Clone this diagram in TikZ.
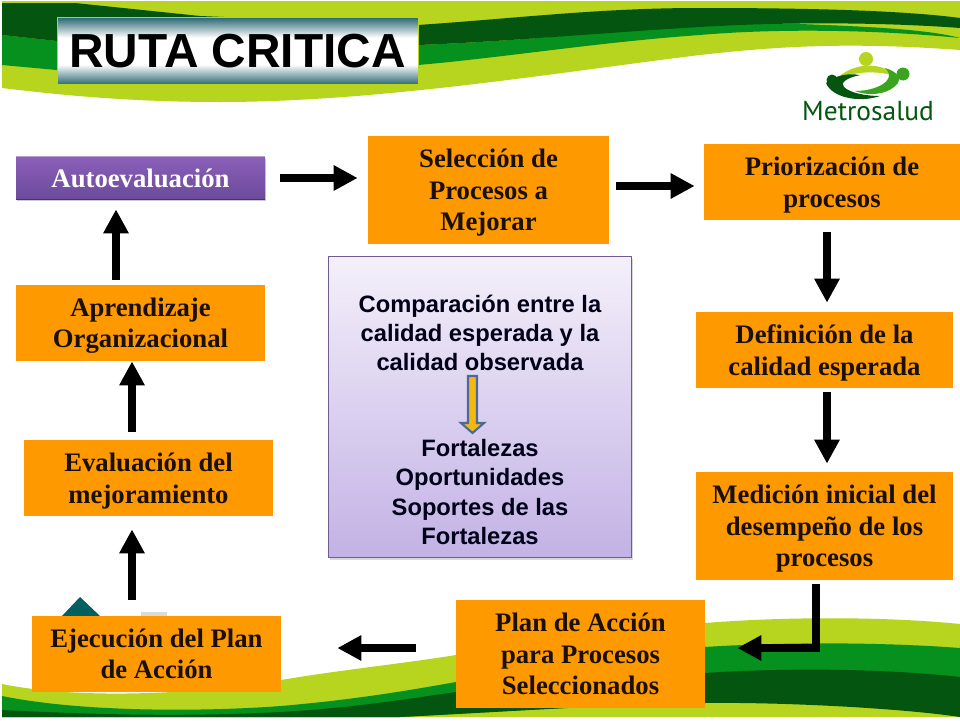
\documentclass[tikz,border=0pt]{standalone}
\usepackage{fontspec}
\setmainfont{Liberation Serif}
\setsansfont{Liberation Sans}
\usetikzlibrary{arrows.meta,shadows,positioning}
\definecolor{naranja}{HTML}{FF9900}
\definecolor{verdeclaro}{HTML}{B7D41E}
\definecolor{verdemedio}{HTML}{06901E}
\definecolor{verdeoscuro}{HTML}{03550F}
\definecolor{tinta}{HTML}{1A1005}
\definecolor{petroleo}{HTML}{2A6872}
\definecolor{lilaalto}{HTML}{F4F0FA}
\definecolor{lilabajo}{HTML}{C3B2E5}
\definecolor{moradoalto}{HTML}{8A5FB8}
\definecolor{moradobajo}{HTML}{6C4A9C}
\definecolor{azulborde}{HTML}{4A6A9A}
\definecolor{oro}{HTML}{F5B80F}
\pgfdeclareverticalshading{brillo}{100bp}{color(0bp)=(petroleo); color(25bp)=(petroleo); color(40bp)=(white);
    color(60bp)=(white); color(75bp)=(petroleo); color(100bp)=(petroleo)}
\def\px{0.02cm}
\newcommand{\baja}{\rule{0pt}{13.7pt}}
\tikzset{
    caja/.style 2 args={fill=naranja, text=tinta, font=\rmfamily\bfseries\fontsize{15.2}{18}\selectfont,
        align=center, inner sep=0pt, minimum width=#1*\px, minimum height=#2*\px},
    flecha/.style={line width=4.2pt, black, -{Triangle[length=0.48cm,width=0.48cm]}},
    textolila/.style={font=\sffamily\bfseries\fontsize{13.5}{16.7}\selectfont, text=black!90!blue, align=center}
}
\begin{document}
\begin{tikzpicture}[x=\px, y=-\px]
    \useasboundingbox (0,0) rectangle (960,720);
    \fill[white] (0,0) rectangle (960,720);
    % franja superior
    \fill[verdeclaro] (2,1) -- (960,1) -- (960,50) .. controls (850,42) and (780,46) .. (700,55)
        .. controls (560,72) and (380,102) .. (220,102) .. controls (130,102) and (60,95) .. (2,88) -- cycle;
    \fill[verdemedio] (2,35) -- (57,41) -- (418,45) .. controls (560,40) and (700,20) .. (800,24)
        .. controls (880,27) and (930,30) .. (960,38) -- (960,50) -- (960,38)
        .. controls (880,30) and (780,28) .. (700,35) .. controls (600,42) and (500,58) .. (418,65)
        -- (57,70) -- (2,65) -- cycle;
    \fill[verdeoscuro] (2,3) -- (75,3) -- (200,16) -- (418,25) .. controls (520,18) and (600,8) .. (700,8)
        .. controls (800,8) and (900,10) .. (960,18) -- (960,28) .. controls (880,22) and (780,22) .. (700,27)
        .. controls (600,33) and (500,42) .. (418,45) -- (57,41) -- (2,35) -- cycle;
    % franja inferior
    \fill[verdeclaro] (2,684) .. controls (80,700) and (200,694) .. (281,680) .. controls (340,670) and (400,664) .. (456,655)
        .. controls (560,636) and (640,626) .. (705,623) .. controls (780,617) and (880,616) .. (960,624)
        -- (960,717) -- (2,717) -- cycle;
    \fill[verdemedio] (2,696) .. controls (80,712) and (200,712) .. (281,706) .. controls (350,700) and (400,692) .. (456,682)
        .. controls (560,662) and (640,650) .. (705,647) .. controls (780,642) and (880,642) .. (960,648)
        -- (960,677) -- (705,700) -- (400,717) -- (2,717) -- cycle;
    \fill[verdeoscuro] (2,710) .. controls (120,716) and (200,716) .. (281,712) .. controls (350,708) and (400,700) .. (456,692)
        .. controls (560,680) and (640,674) .. (705,673) .. controls (780,668) and (880,668) .. (960,677)
        -- (960,717) .. controls (900,708) and (780,702) .. (705,703) .. controls (620,704) and (500,712) .. (400,717) -- (2,717) -- cycle;
    % dibujo tapado
    \fill[teal!75!black] (80,597) -- (100,616) -- (62,616) -- cycle;
    \fill[black!15] (141,612) rectangle (167,616);
    % logo
    \fill[verdeclaro] (866,59) circle (7);
    \fill[verdeoscuro] (832,80) circle (5.5);
    \fill[verdemedio!70!verdeclaro] (903,74) circle (6.5);
    \fill[verdeclaro] (836,80) .. controls (850,63) and (882,60) .. (897,77) .. controls (880,70) and (852,71) .. (836,80) -- cycle;
    \fill[verdeoscuro] (826,83) .. controls (836,75) and (848,73) .. (860,75) .. controls (846,78) and (840,83) .. (844,87)
        .. controls (850,93) and (866,96) .. (880,96) .. controls (860,103) and (832,98) .. (826,83) -- cycle;
    \fill[verdemedio!70!verdeclaro] (885,68) .. controls (896,71) and (902,78) .. (898,83) .. controls (890,94) and (870,97) .. (855,91)
        .. controls (870,91) and (884,86) .. (888,79) .. controls (890,75) and (889,72) .. (885,68) -- cycle;
    \node[font=\fontspec{PT Sans}\fontsize{15.6}{20}\selectfont, text=verdeoscuro, inner sep=0pt] (logo) at (868,111) {Metrosalud};
    % titulo
    \node[draw=verdeclaro, line width=0.5pt, shading=brillo,
        font=\sffamily\bfseries\fontsize{27.2}{30}\selectfont, inner sep=0pt,
        minimum width=361*\px, minimum height=67*\px] (titulo) at (237.5,51) {RUTA CRITICA};
    % cajas
    \node[caja={249}{42}, top color=moradoalto, bottom color=moradobajo, text=white,
        drop shadow={shadow xshift=0.5pt, shadow yshift=-1pt, opacity=0.4}] (auto) at (140.5,178) {Autoevaluación};
    \draw[moradoalto!60!white, line width=0.8pt] (auto.north west) -- (auto.north east);
    \draw[moradobajo!70!black, line width=0.8pt] (auto.south west) -- (auto.south east);
    \node[caja={241}{108}] (selec) at (488.5,190) {\baja Selección de\\Procesos a\\Mejorar};
    \node[caja={256}{76}] (prior) at (832,182) {\baja Priorización de\\procesos};
    \node[caja={257}{76}] (defin) at (824.5,350) {\baja Definición de la\\calidad esperada};
    \node[caja={257}{108}] (medic) at (824.5,526) {\baja Medición inicial del\\desempeño de los\\procesos};
    \node[caja={249}{108}] (plan) at (580.5,654) {Plan de Acción\\para Procesos\\Seleccionados};
    \node[caja={249}{76}] (ejecu) at (156.5,654) {Ejecución del Plan\\de Acción};
    \node[caja={249}{76}] (evalu) at (148.5,478) {\baja Evaluación del\\mejoramiento};
    \node[caja={249}{76}] (apren) at (140.5,323) {\baja Aprendizaje\\Organizacional};
    % cuadro central
    \node[draw=moradobajo!70!gray, line width=0.5pt, top color=lilaalto, bottom color=lilabajo,
        minimum width=303*\px, minimum height=301*\px, inner sep=0pt,
        drop shadow={shadow xshift=1pt, shadow yshift=-1.5pt, opacity=0.3}] (cuadro) at (479.5,406.5) {};
    \node[textolila] (compara) at (480,333) {Comparación entre la\\calidad esperada y la\\calidad observada};
    \node[textolila] (fortal) at (480,492) {Fortalezas\\Oportunidades\\Soportes de las\\Fortalezas};
    \draw[azulborde, line width=1.2pt, fill=oro] (468,376) -- (477,376) -- (477,423) -- (484,423)
        -- (472.5,433) -- (461,423) -- (468,423) -- cycle;
    % flechas
    \coordinate (f1) at (116,0);
    \coordinate (f2) at (132,0);
    \coordinate (f3) at (827,0);
    \coordinate (f4) at (0,186);
    \coordinate (f5) at (0,648);
    \coordinate (codo) at (816,648);
    \draw[flecha, shorten <=0.3cm, shorten >=0.2cm] (auto.east) -- (auto.east -| selec.west);
    \draw[flecha, shorten <=0.14cm, shorten >=0.18cm] (selec.east |- f4) -- (prior.west |- f4);
    \draw[flecha, shorten <=0.24cm, shorten >=0.18cm] (prior.south -| f3) -- (defin.north -| f3);
    \draw[flecha, shorten <=0.08cm, shorten >=0.16cm] (defin.south -| f3) -- (medic.north -| f3);
    \draw[flecha, shorten <=0.08cm, shorten >=0.64cm] (medic.south -| codo) -- (codo) -- (plan.east |- codo);
    \draw[flecha, shorten <=0.8cm, shorten >=1.12cm] (plan.west |- f5) -- (ejecu.east |- f5);
    \draw[flecha, shorten <=0.32cm, shorten >=0.26cm] (ejecu.north -| f2) -- (evalu.south -| f2);
    \draw[flecha, shorten <=0.16cm, shorten >=0pt] (evalu.north -| f2) -- (apren.south -| f2);
    \draw[flecha, shorten <=0.1cm, shorten >=0.2cm] (apren.north -| f1) -- (auto.south -| f1);
\end{tikzpicture}
\end{document}
